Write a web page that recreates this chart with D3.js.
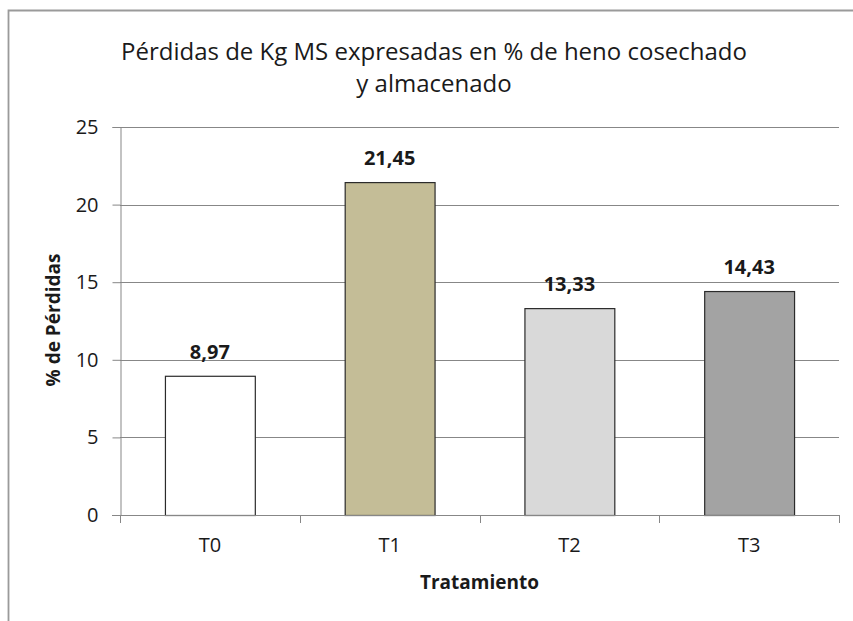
<!DOCTYPE html>
<html><head><meta charset="utf-8">
<script src="https://cdn.jsdelivr.net/npm/d3@7"></script>
<style>
html,body{margin:0;padding:0;background:#fff;}
svg{display:block;}
text{font-family:"Open Sans","Noto Sans",sans-serif;fill:#1a1a1a;}
</style></head>
<body>
<svg id="chart" width="853" height="621"></svg>
<script>
const categories = ["T0", "T1", "T2", "T3"];
const values = [8.97, 21.45, 13.33, 14.43];
const valueLabels = ["8,97", "21,45", "13,33", "14,43"];
const barColors = ["#ffffff", "#c4bd97", "#d9d9d9", "#a3a3a3"];
const yTicks = [0, 5, 10, 15, 20, 25];
const titleLines = ["Pérdidas de Kg MS expresadas en % de heno cosechado", "y almacenado"];
const xTitle = "Tratamiento";
const yTitle = "% de Pérdidas";

const svg = d3.select("#chart");
const W = 853, H = 621;
const plot = {left: 120, right: 839, top: 127, bottom: 515};
const FONT = '"Open Sans","Noto Sans",sans-serif';

// outer chart border
svg.append("path")
  .attr("d", `M8.5,${H+2} L8.5,10.5 L${W+2},10.5`)
  .attr("fill", "none").attr("stroke", "#9a9a9a").attr("stroke-width", 1.8);

const x = d3.scaleBand().domain(categories)
  .range([plot.left, plot.right]).paddingInner(0.5).paddingOuter(0.25);
const y = d3.scaleLinear().domain([0, 25]).range([plot.bottom, plot.top]);

// gridlines
svg.append("g").selectAll("line").data(yTicks.filter(d => d > 0)).join("line")
  .attr("x1", plot.left).attr("x2", plot.right)
  .attr("y1", d => Math.round(y(d)) + 0.5).attr("y2", d => Math.round(y(d)) + 0.5)
  .attr("stroke", "#878787").attr("stroke-width", 1);

// y axis
const yAxis = svg.append("g").attr("transform", `translate(${plot.left + 0.5},0)`)
  .call(d3.axisLeft(y).tickValues(yTicks).tickSize(8).tickPadding(14).tickFormat(d3.format("d")));
yAxis.select(".domain").attr("stroke", "#878787");
yAxis.selectAll(".tick line").attr("stroke", "#878787");
yAxis.selectAll(".tick text").attr("font-size", 20).attr("fill", "#1a1a1a")
  .style("font-family", FONT);

// bars
svg.append("g").selectAll("rect").data(categories).join("rect")
  .attr("x", d => x(d) + 0.5)
  .attr("y", (d, i) => y(values[i]) + 0.5)
  .attr("width", x.bandwidth())
  .attr("height", (d, i) => y(0) - y(values[i]))
  .attr("fill", (d, i) => barColors[i])
  .attr("stroke", "#2b2b2b").attr("stroke-width", 1.2);

// x axis
const xTickPos = d3.range(categories.length + 1).map(i => plot.left + i * x.step());
const xg = svg.append("g");
xg.append("line").attr("x1", plot.left - 8).attr("x2", plot.right)
  .attr("y1", plot.bottom + 0.5).attr("y2", plot.bottom + 0.5).attr("stroke", "#878787");
xg.selectAll("line.tk").data(xTickPos).join("line").attr("class", "tk")
  .attr("x1", d => Math.round(d) + 0.5).attr("x2", d => Math.round(d) + 0.5)
  .attr("y1", plot.bottom).attr("y2", plot.bottom + 8).attr("stroke", "#878787");
xg.selectAll("text").data(categories).join("text")
  .attr("x", d => x(d) + x.bandwidth() / 2).attr("y", 552)
  .attr("text-anchor", "middle").attr("font-size", 20).text(d => d);

// value labels
svg.append("g").selectAll("text").data(categories).join("text")
  .attr("x", d => x(d) + x.bandwidth() / 2)
  .attr("y", (d, i) => y(values[i]) - 17)
  .attr("text-anchor", "middle").attr("font-size", 20).attr("font-weight", "bold")
  .text((d, i) => valueLabels[i]);

// title
svg.append("g").selectAll("text").data(titleLines).join("text")
  .attr("x", 434).attr("y", (d, i) => 60 + i * 32)
  .attr("text-anchor", "middle").attr("font-size", 24).text(d => d);

// axis titles
svg.append("text").attr("x", (plot.left + plot.right) / 2).attr("y", 589)
  .attr("text-anchor", "middle").attr("font-size", 19).attr("font-weight", "bold").text(xTitle);
svg.append("text").attr("transform", "translate(60,320) rotate(-90)")
  .attr("text-anchor", "middle").attr("font-size", 19).attr("font-weight", "bold").text(yTitle);
</script>
</body></html>
